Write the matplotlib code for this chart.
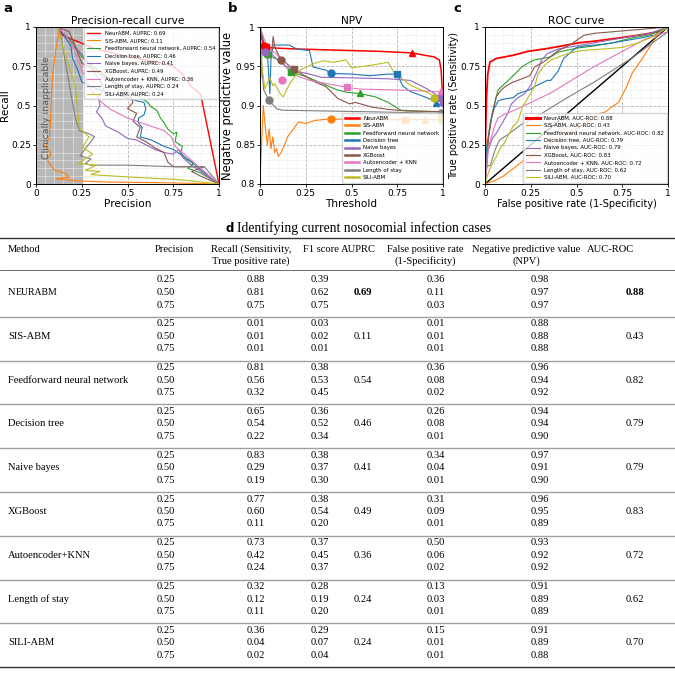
import matplotlib
matplotlib.use("Agg")
import matplotlib.pyplot as plt
import numpy as np

plt.rcParams["font.family"] = ["DejaVu Sans"]

# ---- methods / colours / summary values
methods = ["NeurABM", "SIS-ABM", "Feedforward neural network", "Decision tree",
           "Naive bayes", "XGBoost", "Autoencoder + KNN", "Length of stay", "SILI-ABM"]
colors = ["red", "tab:orange", "tab:green", "tab:blue", "tab:purple",
          "tab:brown", "tab:pink", "tab:gray", "tab:olive"]
auprc = [0.69, 0.11, 0.54, 0.46, 0.41, 0.49, 0.36, 0.24, 0.24]
auc_roc = [0.88, 0.43, 0.82, 0.79, 0.79, 0.83, 0.72, 0.62, 0.70]

# ---- a: precision-recall curves (precision, recall)
pr_neurabm = [(0.12, 1.0), (0.146, 0.947), (0.2, 0.92), (0.255, 0.894), (0.3, 0.87), (0.4, 0.84),
              (0.5, 0.81), (0.6, 0.79), (0.7, 0.765), (0.75, 0.75), (0.8, 0.7), (0.85, 0.62),
              (0.9, 0.57), (1.0, 0.0)]
pr_sis = [(0.13, 1.0), (0.12, 0.93), (0.11, 0.87), (0.1, 0.78), (0.09, 0.68), (0.085, 0.57),
          (0.082, 0.47), (0.078, 0.38), (0.073, 0.3), (0.055, 0.24), (0.082, 0.19), (0.06, 0.16),
          (0.073, 0.13), (0.1, 0.09), (0.164, 0.066), (0.18, 0.045), (0.11, 0.034), (0.22, 0.02),
          (0.4, 0.012), (0.7, 0.008), (1.0, 0.0)]
pr_fnn = [(0.12, 1.0), (0.16, 0.95), (0.2, 0.9), (0.25, 0.81), (0.3, 0.76), (0.4, 0.67), (0.5, 0.58),
          (0.56, 0.56), (0.61, 0.52), (0.63, 0.49), (0.66, 0.47), (0.68, 0.42), (0.7, 0.39),
          (0.72, 0.35), (0.75, 0.32), (0.77, 0.33), (0.76, 0.27), (0.8, 0.24), (0.79, 0.2),
          (0.82, 0.16), (0.86, 0.13), (0.83, 0.1), (0.9, 0.07), (1.0, 0.0)]
pr_dt = [(0.12, 1.0), (0.15, 0.95), (0.19, 0.88), (0.2, 0.8), (0.23, 0.72), (0.25, 0.65), (0.3, 0.62),
         (0.4, 0.58), (0.5, 0.55), (0.55, 0.53), (0.59, 0.52), (0.6, 0.48), (0.59, 0.44), (0.56, 0.42),
         (0.56, 0.39), (0.58, 0.36), (0.57, 0.3), (0.63, 0.28), (0.7, 0.24), (0.75, 0.22), (0.8, 0.18),
         (0.84, 0.15), (0.9, 0.09), (1.0, 0.0)]
pr_nb = [(0.12, 1.0), (0.16, 0.95), (0.2, 0.88), (0.25, 0.83), (0.3, 0.74), (0.35, 0.66), (0.37, 0.6),
         (0.34, 0.55), (0.35, 0.5), (0.33, 0.46), (0.36, 0.42), (0.38, 0.37), (0.45, 0.33), (0.5, 0.29),
         (0.55, 0.28), (0.6, 0.25), (0.65, 0.22), (0.7, 0.2), (0.75, 0.19), (0.78, 0.22), (0.8, 0.17),
         (0.85, 0.12), (1.0, 0.0)]
pr_xgb = [(0.12, 1.0), (0.18, 0.97), (0.2, 0.92), (0.25, 0.77), (0.3, 0.74), (0.4, 0.66), (0.5, 0.6),
          (0.53, 0.52), (0.5, 0.48), (0.55, 0.45), (0.53, 0.4), (0.57, 0.36), (0.55, 0.3), (0.6, 0.27),
          (0.65, 0.23), (0.7, 0.2), (0.72, 0.14), (0.75, 0.11), (0.85, 0.11), (0.92, 0.11),
          (0.85, 0.08), (0.9, 0.05), (1.0, 0.0)]
pr_ae = [(0.12, 1.0), (0.16, 0.95), (0.2, 0.88), (0.25, 0.73), (0.3, 0.6), (0.35, 0.53), (0.4, 0.48),
         (0.45, 0.45), (0.5, 0.42), (0.55, 0.4), (0.6, 0.38), (0.65, 0.36), (0.7, 0.34), (0.74, 0.3),
         (0.76, 0.24), (0.8, 0.2), (0.9, 0.1), (1.0, 0.0)]
pr_los = [(0.12, 1.0), (0.137, 0.936), (0.16, 0.78), (0.19, 0.58), (0.215, 0.42), (0.237, 0.34),
          (0.29, 0.32), (0.32, 0.3), (0.28, 0.24), (0.24, 0.18), (0.3, 0.16), (0.27, 0.13), (0.3, 0.12),
          (0.5, 0.12), (0.75, 0.11), (0.92, 0.11), (1.0, 0.0)]
pr_sili = [(0.12, 1.0), (0.146, 0.87), (0.173, 0.77), (0.2, 0.68), (0.22, 0.575), (0.228, 0.47),
           (0.237, 0.36), (0.27, 0.32), (0.29, 0.3), (0.255, 0.235), (0.31, 0.19), (0.228, 0.13),
           (0.33, 0.12), (0.27, 0.087), (0.35, 0.08), (0.3, 0.06), (0.5, 0.045), (0.75, 0.03),
           (0.85, 0.02), (1.0, 0.0)]

# ---- b: NPV against threshold (threshold, npv)
npv_neurabm = [(0.0, 1.0), (0.01, 0.985), (0.02, 0.976), (0.033, 0.974), (0.1, 0.973), (0.2, 0.972),
               (0.35, 0.971), (0.5, 0.97), (0.65, 0.969), (0.83, 0.967), (0.9, 0.964), (0.95, 0.962),
               (0.98, 0.958), (0.99, 0.945), (1.0, 0.9)]
npv_sis = [(0.0, 1.0), (0.003, 0.82), (0.01, 0.86), (0.018, 0.9), (0.03, 0.87), (0.04, 0.85),
           (0.05, 0.87), (0.06, 0.845), (0.07, 0.86), (0.08, 0.84), (0.09, 0.845), (0.1, 0.835),
           (0.115, 0.84), (0.135, 0.85), (0.15, 0.86), (0.17, 0.866), (0.21, 0.879), (0.25, 0.877),
           (0.3, 0.881), (0.39, 0.883), (0.5, 0.882), (0.7, 0.882), (1.0, 0.882)]
npv_fnn = [(0.0, 1.0), (0.005, 0.935), (0.01, 0.966), (0.04, 0.965), (0.11, 0.957), (0.167, 0.943),
           (0.25, 0.937), (0.38, 0.924), (0.42, 0.92), (0.47, 0.917), (0.55, 0.915), (0.63, 0.911),
           (0.7, 0.904), (0.77, 0.894), (0.85, 0.893), (1.0, 0.892)]
npv_dt = [(0.0, 1.0), (0.02, 0.98), (0.04, 0.968), (0.054, 0.915), (0.06, 0.96), (0.072, 0.977),
          (0.16, 0.977), (0.2, 0.972), (0.27, 0.97), (0.29, 0.949), (0.36, 0.945), (0.39, 0.941),
          (0.5, 0.94), (0.6, 0.938), (0.7, 0.94), (0.75, 0.94), (0.78, 0.925), (0.82, 0.918),
          (0.9, 0.911), (0.96, 0.905), (1.0, 0.898)]
npv_nb = [(0.0, 1.0), (0.03, 0.968), (0.054, 0.968), (0.11, 0.955), (0.18, 0.945), (0.27, 0.94),
          (0.335, 0.936), (0.54, 0.935), (0.7, 0.934), (0.82, 0.932), (0.915, 0.921), (0.98, 0.911),
          (1.0, 0.91)]
npv_xgb = [(0.0, 1.0), (0.03, 0.97), (0.06, 0.96), (0.072, 0.988), (0.08, 0.975), (0.11, 0.96),
           (0.18, 0.947), (0.25, 0.937), (0.3, 0.93), (0.36, 0.924), (0.4, 0.915), (0.425, 0.909),
           (0.49, 0.902), (0.52, 0.904), (0.61, 0.898), (0.7, 0.895), (0.8, 0.893), (1.0, 0.892)]
npv_ae = [(0.0, 1.0), (0.03, 0.98), (0.06, 0.97), (0.09, 0.966), (0.12, 0.955), (0.16, 0.945),
          (0.2, 0.938), (0.27, 0.932), (0.36, 0.928), (0.48, 0.923), (0.54, 0.921), (0.7, 0.92),
          (0.85, 0.919), (1.0, 0.917)]
npv_los = [(0.0, 1.0), (0.01, 0.95), (0.02, 0.92), (0.047, 0.907), (0.09, 0.896), (0.12, 0.894),
           (0.36, 0.893), (0.6, 0.892), (0.8, 0.891), (1.0, 0.89)]
npv_sili = [(0.0, 1.0), (0.01, 0.95), (0.027, 0.921), (0.054, 0.936), (0.07, 0.925), (0.08, 0.928),
            (0.11, 0.915), (0.127, 0.911), (0.163, 0.928), (0.217, 0.945), (0.29, 0.953),
            (0.344, 0.957), (0.4, 0.955), (0.47, 0.958), (0.5, 0.948), (0.6, 0.951), (0.7, 0.955),
            (0.73, 0.943), (0.82, 0.926), (0.91, 0.917), (0.96, 0.911), (1.0, 0.905)]

# markers on NPV curves: circle = precision 0.25, square = 0.50, triangle = 0.75 (threshold, npv)
npv_circle = [(0.02, 0.976), (0.39, 0.883), (0.04, 0.965), (0.386, 0.941), (0.03, 0.968),
              (0.114, 0.958), (0.118, 0.933), (0.047, 0.907), (0.95, 0.91)]
npv_square = [(0.033, 0.974), (0.79, 0.882), (0.167, 0.943), (0.746, 0.94), (0.99, 0.91),
              (0.187, 0.946), (0.478, 0.923), (0.997, 0.89), (0.99, 0.884)]
npv_triangle = [(0.83, 0.967), (0.9, 0.882), (0.549, 0.916), (0.96, 0.903), (0.995, 0.905),
                (0.99, 0.892), (0.99, 0.918), (0.998, 0.89), (0.995, 0.882)]

# ---- c: ROC curves (fpr, tpr)
roc_neurabm = [(0, 0), (0.003, 0.3), (0.008, 0.55), (0.015, 0.7), (0.027, 0.777), (0.063, 0.8),
               (0.11, 0.81), (0.154, 0.82), (0.235, 0.845), (0.335, 0.862), (0.4, 0.875), (0.516, 0.9),
               (0.6, 0.91), (0.73, 0.93), (0.85, 0.95), (0.95, 0.97), (1, 1)]
roc_sis = [(0, 0), (0.05, 0.02), (0.1, 0.05), (0.154, 0.098), (0.2, 0.14), (0.25, 0.17), (0.3, 0.22),
           (0.4, 0.29), (0.5, 0.35), (0.55, 0.39), (0.6, 0.42), (0.63, 0.45), (0.66, 0.46),
           (0.68, 0.48), (0.73, 0.52), (0.77, 0.61), (0.806, 0.71), (0.86, 0.8), (0.915, 0.9),
           (0.95, 0.96), (1, 1)]
roc_fnn = [(0, 0), (0.005, 0.2), (0.02, 0.32), (0.04, 0.45), (0.06, 0.55), (0.072, 0.6), (0.1, 0.63),
           (0.118, 0.65), (0.145, 0.68), (0.18, 0.72), (0.2, 0.745), (0.245, 0.777), (0.27, 0.79),
           (0.36, 0.81), (0.4, 0.84), (0.5, 0.865), (0.6, 0.88), (0.7, 0.9), (0.8, 0.93), (0.9, 0.95),
           (1, 1)]
roc_dt = [(0, 0), (0.01, 0.22), (0.03, 0.4), (0.05, 0.48), (0.072, 0.53), (0.1, 0.54), (0.154, 0.55),
          (0.18, 0.575), (0.245, 0.6), (0.27, 0.62), (0.34, 0.66), (0.36, 0.66), (0.4, 0.72),
          (0.43, 0.8), (0.46, 0.83), (0.5, 0.87), (0.55, 0.88), (0.65, 0.89), (0.75, 0.91),
          (0.85, 0.93), (0.93, 0.95), (1, 1)]
roc_nb = [(0, 0), (0.01, 0.19), (0.04, 0.29), (0.06, 0.32), (0.08, 0.36), (0.1, 0.4), (0.12, 0.44),
          (0.145, 0.51), (0.18, 0.55), (0.217, 0.575), (0.25, 0.63), (0.27, 0.68), (0.29, 0.73),
          (0.31, 0.79), (0.34, 0.83), (0.4, 0.86), (0.5, 0.88), (0.6, 0.9), (0.7, 0.92), (0.8, 0.94),
          (0.9, 0.96), (1, 1)]
roc_xgb = [(0, 0), (0.01, 0.11), (0.02, 0.3), (0.04, 0.45), (0.063, 0.56), (0.09, 0.6), (0.11, 0.62),
           (0.154, 0.65), (0.18, 0.66), (0.245, 0.69), (0.27, 0.745), (0.31, 0.77), (0.335, 0.79),
           (0.4, 0.85), (0.47, 0.89), (0.54, 0.947), (0.6, 0.96), (0.7, 0.97), (0.8, 0.98),
           (0.9, 0.99), (1, 1)]
roc_ae = [(0, 0), (0.02, 0.24), (0.05, 0.36), (0.07, 0.42), (0.1, 0.44), (0.18, 0.48), (0.36, 0.58),
          (0.5, 0.68), (0.6, 0.75), (0.88, 0.926), (1, 0.97), (1, 1)]
roc_los = [(0, 0), (0.005, 0.11), (0.03, 0.12), (0.05, 0.2), (0.063, 0.24), (0.08, 0.28),
           (0.118, 0.31), (0.13, 0.32), (0.2, 0.38), (0.308, 0.448), (0.45, 0.55), (0.598, 0.65),
           (0.8, 0.8), (1, 0.97), (1, 1)]
roc_sili = [(0, 0), (0.01, 0.04), (0.027, 0.1), (0.06, 0.17), (0.08, 0.22), (0.11, 0.27),
            (0.136, 0.33), (0.15, 0.36), (0.18, 0.4), (0.208, 0.5), (0.22, 0.52), (0.25, 0.58),
            (0.27, 0.62), (0.29, 0.7), (0.32, 0.75), (0.36, 0.79), (0.45, 0.83), (0.525, 0.85),
            (0.65, 0.86), (0.75, 0.87), (0.84, 0.9), (0.92, 0.94), (1, 1)]

pr_curves = [pr_neurabm, pr_sis, pr_fnn, pr_dt, pr_nb, pr_xgb, pr_ae, pr_los, pr_sili]
npv_curves = [npv_neurabm, npv_sis, npv_fnn, npv_dt, npv_nb, npv_xgb, npv_ae, npv_los, npv_sili]
roc_curves = [roc_neurabm, roc_sis, roc_fnn, roc_dt, roc_nb, roc_xgb, roc_ae, roc_los, roc_sili]

# ---- d: table
tbl_methods = ["NeurABM", "SIS-ABM", "Feedforward neural network", "Decision tree", "Naive bayes",
               "XGBoost", "Autoencoder+KNN", "Length of stay", "SILI-ABM"]
tbl_precision = [0.25, 0.50, 0.75]
tbl_recall = [[0.88, 0.81, 0.75], [0.01, 0.01, 0.01], [0.81, 0.56, 0.32], [0.65, 0.54, 0.22],
              [0.83, 0.29, 0.19], [0.77, 0.60, 0.11], [0.73, 0.42, 0.24], [0.32, 0.12, 0.11],
              [0.36, 0.04, 0.02]]
tbl_f1 = [[0.39, 0.62, 0.75], [0.03, 0.02, 0.01], [0.38, 0.53, 0.45], [0.36, 0.52, 0.34],
          [0.38, 0.37, 0.30], [0.38, 0.54, 0.20], [0.37, 0.45, 0.37], [0.28, 0.19, 0.20],
          [0.29, 0.07, 0.04]]
tbl_fpr = [[0.36, 0.11, 0.03], [0.01, 0.01, 0.01], [0.36, 0.08, 0.02], [0.26, 0.08, 0.01],
           [0.34, 0.04, 0.01], [0.31, 0.09, 0.01], [0.50, 0.06, 0.02], [0.13, 0.03, 0.01],
           [0.15, 0.01, 0.01]]
tbl_npv = [[0.98, 0.97, 0.97], [0.88, 0.88, 0.88], [0.96, 0.94, 0.92], [0.94, 0.94, 0.90],
           [0.97, 0.91, 0.90], [0.96, 0.95, 0.89], [0.93, 0.92, 0.92], [0.91, 0.89, 0.89],
           [0.91, 0.89, 0.88]]

fig = plt.figure(figsize=(6.75, 6.79), dpi=100)
W, H = 675, 679


def panel(left):
    ax = fig.add_axes([left / W, (H - 184) / H, 183 / W, 157 / H])
    ax.set_xlim(0, 1)
    ax.set_xticks([0, 0.25, 0.5, 0.75, 1])
    ax.set_xticklabels(["0", "0.25", "0.5", "0.75", "1"])
    ax.set_xticks(np.arange(0, 1.001, 0.05), minor=True)
    ax.tick_params(labelsize=6.5, length=2, width=0.6, pad=1.5)
    ax.tick_params(which="minor", length=0)
    ax.grid(True, which="major", ls="--", color="#b5b5b5", lw=0.6)
    ax.grid(True, which="minor", ls="-", color="#ececec", lw=0.4)
    ax.set_axisbelow(True)
    for s in ax.spines.values():
        s.set_linewidth(0.7)
    return ax


# panel a
ax1 = panel(36)
ax1.set_ylim(0, 1)
ax1.set_yticks([0, 0.25, 0.5, 0.75, 1])
ax1.set_yticklabels(["0", "0.25", "0.5", "0.75", "1"])
ax1.set_yticks(np.arange(0, 1.001, 0.05), minor=True)
ax1.axvspan(0, 0.25, color="#b8b8b8", zorder=0.5)
ax1.text(0.06, 0.49, "Clinically inapplicable", rotation=90, ha="center", va="center",
         fontsize=6.8, color="#555555")
for m, c, cur, v in zip(methods, colors, pr_curves, auprc):
    xs, ys = zip(*cur)
    ax1.plot(xs, ys, color=c, lw=1.0 if m == "NeurABM" else 0.8, label=f"{m}, AUPRC: {v:.2f}")
ax1.legend(loc="upper right", fontsize=3.8, handlelength=2.6, labelspacing=0.5,
           borderaxespad=0.2, borderpad=0.5, framealpha=0.8, edgecolor="#cccccc")
ax1.set_title("Precision-recall curve", fontsize=7.6, pad=2)
ax1.set_xlabel("Precision", fontsize=7.6, labelpad=1)
ax1.set_ylabel("Recall", fontsize=7.6, labelpad=1)

# panel b
ax2 = panel(260)
ax2.set_ylim(0.8, 1)
ax2.set_yticks([0.8, 0.85, 0.9, 0.95, 1])
ax2.set_yticklabels(["0.8", "0.85", "0.9", "0.95", "1"])
ax2.set_yticks(np.arange(0.8, 1.0001, 0.01), minor=True)
for i, (m, c, cur) in enumerate(zip(methods, colors, npv_curves)):
    xs, ys = zip(*cur)
    ax2.plot(xs, ys, color=c, lw=1.1 if m == "NeurABM" else 0.8, label=m)
for i, c in enumerate(colors):
    for pts, mk in ((npv_circle, "o"), (npv_square, "s"), (npv_triangle, "^")):
        ax2.plot(pts[i][0], pts[i][1], marker=mk, color=c, ms=5, ls="none")
leg2 = ax2.legend(loc="lower right", fontsize=3.9, handlelength=2.6, labelspacing=0.45,
                  borderaxespad=0.2, borderpad=0.5, framealpha=0.8, edgecolor="#cccccc")
for h in leg2.get_lines():
    h.set_linewidth(1.8)
ax2.set_title("NPV", fontsize=7.6, pad=2)
ax2.set_xlabel("Threshold", fontsize=7.6, labelpad=1)
ax2.set_ylabel("Negative predictive value", fontsize=8.3, labelpad=1)

# panel c
ax3 = panel(485)
ax3.set_ylim(0, 1)
ax3.set_yticks([0, 0.25, 0.5, 0.75, 1])
ax3.set_yticklabels(["0", "0.25", "0.5", "0.75", "1"])
ax3.set_yticks(np.arange(0, 1.001, 0.05), minor=True)
ax3.plot([0, 1], [0, 1], color="black", lw=1.0)
for m, c, cur, v in zip(methods, colors, roc_curves, auc_roc):
    xs, ys = zip(*cur)
    ax3.plot(xs, ys, color=c, lw=1.3 if m == "NeurABM" else 0.8, label=f"{m}, AUC-ROC: {v:.2f}")
leg3 = ax3.legend(loc="lower right", fontsize=3.9, handlelength=2.6, labelspacing=0.45,
                  borderaxespad=0.2, borderpad=0.5, framealpha=0.8, edgecolor="#cccccc")
leg3.get_lines()[0].set_linewidth(2.2)
ax3.set_title("ROC curve", fontsize=7.6, pad=2)
ax3.set_xlabel("False positive rate (1-Specificity)", fontsize=7.0, labelpad=1)
ax3.set_ylabel("True positive rate (Sensitivity)", fontsize=7.0, labelpad=1)

# panel letters
for x, s in ((3, "a"), (228, "b"), (453, "c")):
    fig.text(x / W, 1 - 9 / H, s, fontsize=9.5, fontweight="bold", va="center", ha="left")

# ---- table in pixel coordinates
tax = fig.add_axes([0, 0, 1, 1], zorder=-1)
tax.set_xlim(0, W)
tax.set_ylim(H, 0)
tax.axis("off")
serif = ["Liberation Serif", "DejaVu Serif"]
fs = 7.6
renderer = fig.canvas.get_renderer()

t_d = tax.text(226, 228, "d", fontsize=8.5, fontweight="bold", va="center", ha="left")
dw = t_d.get_window_extent(renderer).width
tax.text(226 + dw + 3, 228, "Identifying current nosocomial infection cases", family=serif,
         fontsize=9.8, va="center", ha="left")

tax.plot([0, W], [238, 238], color="#333333", lw=1.0)
tax.plot([0, W], [270, 270], color="#555555", lw=0.6)

hdr = [(8, "Method", "", "left"), (174, "Precision", "", "center"),
       (251, "Recall (Sensitivity,", "True positive rate)", "center"),
       (321, "F1 score", "", "center"), (358, "AUPRC", "", "center"),
       (425, "False positive rate", "(1-Specificity)", "center"),
       (526, "Negative predictive value", "(NPV)", "center"), (611, "AUC-ROC", "", "center")]
for x, l1, l2, ha in hdr:
    tax.text(x, 249, l1, family=serif, fontsize=fs, ha=ha, va="center")
    if l2:
        tax.text(x, 261, l2, family=serif, fontsize=fs, ha=ha, va="center")

col_x = {"prec": 166, "rec": 256, "f1": 320, "auprc": 363, "fpr": 436, "npv": 540, "auc": 635}
pitch, row = 43.8, 12.5
for i, name in enumerate(tbl_methods):
    y0 = 280 + pitch * i
    ym = y0 + row
    if name == "NeurABM":
        t_n = tax.text(8, ym, "N", family=serif, fontsize=fs, ha="left", va="center")
        nw = t_n.get_window_extent(renderer).width
        tax.text(8 + nw + 0.5, ym + 0.3, "EURABM", family=serif, fontsize=7.0, ha="left",
                 va="center")
    else:
        tax.text(8, ym, name, family=serif, fontsize=fs, ha="left", va="center")
    for j in range(3):
        y = y0 + row * j
        tax.text(col_x["prec"], y, f"{tbl_precision[j]:.2f}", family=serif, fontsize=fs,
                 ha="center", va="center")
        tax.text(col_x["rec"], y, f"{tbl_recall[i][j]:.2f}", family=serif, fontsize=fs,
                 ha="center", va="center")
        tax.text(col_x["f1"], y, f"{tbl_f1[i][j]:.2f}", family=serif, fontsize=fs,
                 ha="center", va="center")
        tax.text(col_x["fpr"], y, f"{tbl_fpr[i][j]:.2f}", family=serif, fontsize=fs,
                 ha="center", va="center")
        tax.text(col_x["npv"], y, f"{tbl_npv[i][j]:.2f}", family=serif, fontsize=fs,
                 ha="center", va="center")
    bold = "bold" if i == 0 else "normal"
    tax.text(col_x["auprc"], ym, f"{auprc[i]:.2f}", family=serif, fontsize=fs, ha="center",
             va="center", fontweight=bold)
    tax.text(col_x["auc"], ym, f"{auc_roc[i]:.2f}", family=serif, fontsize=fs, ha="center",
             va="center", fontweight=bold)
    yl = 280 + pitch * (i + 1) - 7
    if i < len(tbl_methods) - 1:
        tax.plot([0, W], [yl, yl], color="#a0a0a0", lw=1.0)
    else:
        tax.plot([0, W], [yl, yl], color="#333333", lw=1.0)

fig.savefig("out.png", dpi=100)
